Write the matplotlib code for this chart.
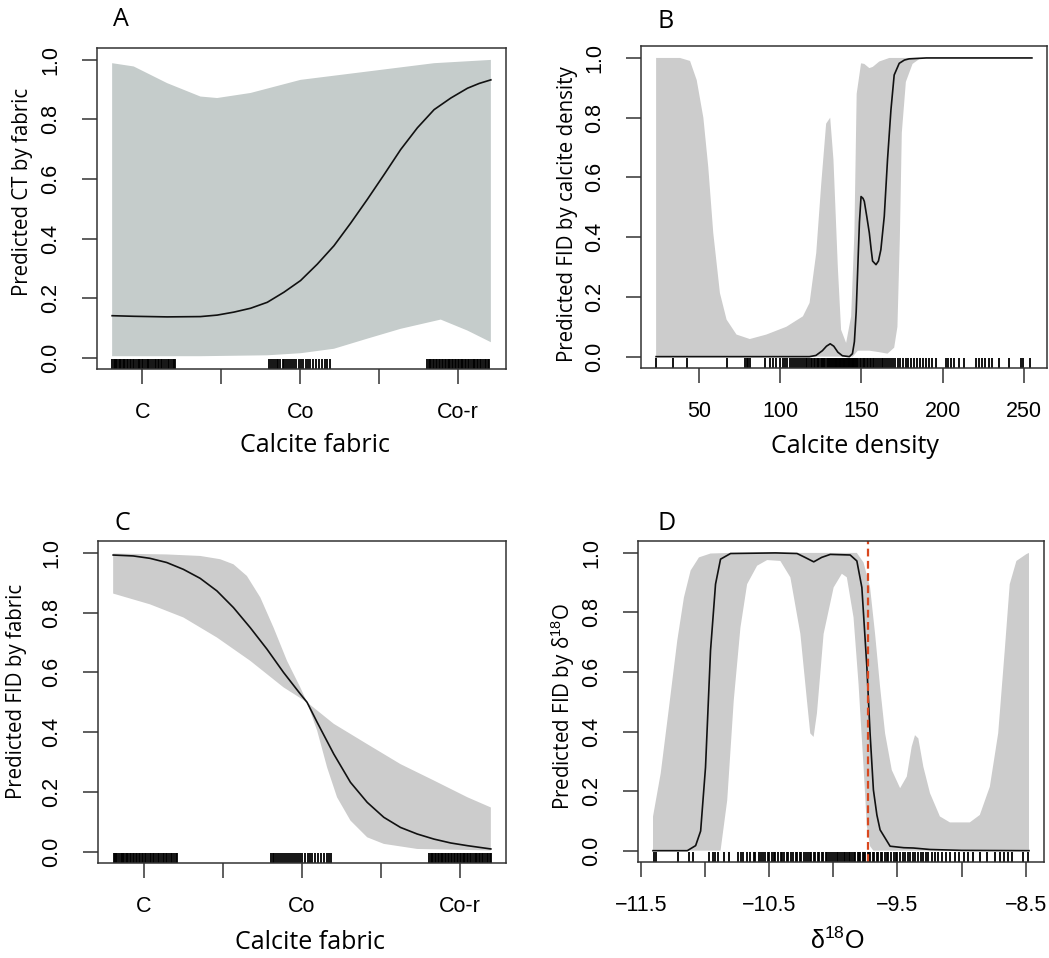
import matplotlib
matplotlib.use("Agg")
import matplotlib.pyplot as plt

plt.rcParams['mathtext.fontset'] = 'custom'
plt.rcParams['mathtext.rm'] = 'Liberation Sans'

# panel A: predicted CT by fabric
a_line_x = [0.808, 0.945, 1.157, 1.368, 1.474, 1.580, 1.686, 1.792, 1.898, 2.003, 2.109,
            2.215, 2.321, 2.427, 2.533, 2.638, 2.744, 2.850, 2.956, 3.062, 3.136, 3.210]
a_line_y = [0.141, 0.139, 0.137, 0.138, 0.143, 0.153, 0.166, 0.186, 0.220, 0.259, 0.314,
            0.376, 0.452, 0.532, 0.615, 0.699, 0.772, 0.833, 0.872, 0.905, 0.921, 0.933]
a_up_x = [0.808, 0.945, 1.157, 1.368, 1.474, 1.686, 2.003, 2.427, 2.850, 3.210]
a_up_y = [0.989, 0.978, 0.922, 0.877, 0.872, 0.889, 0.933, 0.961, 0.989, 1.000]
a_lo_x = [0.808, 1.368, 1.792, 2.003, 2.215, 2.427, 2.638, 2.892, 3.062, 3.210]
a_lo_y = [0.005, 0.005, 0.008, 0.015, 0.030, 0.064, 0.097, 0.128, 0.091, 0.052]

# panel B: predicted FID by calcite density
b_line_x = [23.6, 60, 100, 118.0, 122.0, 126.0, 128.5, 130.8, 133.0, 135.5, 138.3, 142.6,
            144.5, 145.7, 146.8, 147.8, 148.8, 149.8, 151.0, 151.8, 153.3, 154.9, 156.0,
            156.9, 159.0, 160.5, 162.0, 164.1, 166.1, 168.2, 170.2, 173.3, 176.5, 179.4,
            190, 255]
b_line_y = [0.0, 0.0, 0.0, 0.0, 0.004, 0.02, 0.035, 0.043, 0.035, 0.015, 0.003, 0.0,
            0.01, 0.05, 0.15, 0.30, 0.45, 0.536, 0.53, 0.52, 0.47, 0.414, 0.36,
            0.32, 0.308, 0.32, 0.358, 0.47, 0.66, 0.826, 0.943, 0.982, 0.993, 0.997,
            1.0, 1.0]
b_up_x = [23.6, 38.3, 44.5, 48.6, 52.7, 55.7, 58.8, 62.9, 67.0, 73.1, 81.3, 91.5, 103.8,
          114.0, 118.1, 122.2, 125.3, 128.3, 130.8, 132.8, 135.5, 137.5, 140.6, 143.7,
          145.7, 147.1, 149.8, 151.8, 154.9, 157.0, 161.0, 167.2, 255]
b_up_y = [1.0, 1.0, 0.99, 0.926, 0.80, 0.636, 0.414, 0.213, 0.124, 0.074, 0.059, 0.074,
          0.10, 0.135, 0.18, 0.347, 0.58, 0.78, 0.80, 0.66, 0.30, 0.09, 0.046, 0.135,
          0.414, 0.88, 0.982, 0.98, 0.966, 0.97, 0.988, 1.0, 1.0]
b_lo_x = [23.6, 144.7, 147.8, 154.9, 161.0, 166.1, 170.2, 172.2, 173.7, 174.9, 177.4,
          181.5, 186.6, 255]
b_lo_y = [0.0, 0.0, 0.02, 0.02, 0.015, 0.01, 0.03, 0.1, 0.4, 0.75, 0.92, 0.98, 1.0, 1.0]
b_rug = [23.6, 34.2, 42.8, 67.0, 78.2, 79.3, 80.4, 81.3, 90.5, 93.6, 95.4, 97.7, 99.7,
         101.6, 103.2, 104.5, 106.1, 107.3, 108.8, 110.0, 111.2, 112.1, 113.5, 114.6,
         115.7, 116.8, 117.9, 118.8, 119.8, 120.7, 121.6, 122.5, 123.3, 124.1, 124.9,
         125.6, 126.4, 127.1, 127.9, 128.6, 129.3, 130.0, 130.7, 131.4, 132.0, 132.6,
         133.1, 133.6, 134.1, 134.6, 135.1, 135.6, 136.1, 136.6, 137.1, 137.6, 138.1,
         138.6, 139.1, 139.6, 140.1, 140.6, 141.1, 141.6, 142.1, 142.6, 143.1, 143.6,
         144.1, 144.6, 145.1, 145.6, 146.1, 146.7, 147.4, 148.2, 149.0, 149.9, 150.7,
         151.6, 152.4, 153.3, 154.3, 155.2, 156.0, 157.1, 158.0, 159.2, 160.1, 161.3,
         162.4, 163.3, 164.5, 165.8, 166.9, 168.1, 169.5, 170.8, 172.3, 174.0, 175.4,
         177.2, 178.9, 180.5, 182.4, 184.0, 186.1, 188.0, 189.7, 191.5, 193.6, 195.8,
         202.0, 203.4, 205.1, 207.3, 210.0, 213.1, 220.4, 222.3, 224.5, 226.1, 228.4,
         230.2, 234.7, 240.8, 248.0, 249.5, 254.0]

# panel C: predicted FID by fabric
c_line_x = [0.805, 0.932, 1.038, 1.144, 1.25, 1.356, 1.462, 1.567, 1.673, 1.779, 1.884,
            1.99, 2.033, 2.097, 2.202, 2.308, 2.414, 2.519, 2.625, 2.731, 2.837, 2.943,
            3.049, 3.197]
c_line_y = [0.993, 0.990, 0.982, 0.968, 0.945, 0.915, 0.873, 0.817, 0.75, 0.678, 0.600,
            0.528, 0.5, 0.433, 0.327, 0.232, 0.165, 0.115, 0.081, 0.059, 0.042, 0.029,
            0.020, 0.009]
c_steep_x = [0.805, 1.144, 1.356, 1.483, 1.567, 1.652, 1.737, 1.821, 1.906, 1.99, 2.033,
             2.097, 2.16, 2.223, 2.308, 2.414, 2.519, 2.731, 3.197]
c_steep_y = [0.998, 0.995, 0.990, 0.979, 0.962, 0.923, 0.851, 0.750, 0.639, 0.55, 0.5,
             0.405, 0.282, 0.182, 0.104, 0.048, 0.026, 0.009, 0.004]
c_gentle_x = [0.805, 1.038, 1.25, 1.462, 1.673, 1.884, 2.033, 2.202, 2.414, 2.625, 2.837,
              3.049, 3.197]
c_gentle_y = [0.864, 0.828, 0.784, 0.717, 0.639, 0.550, 0.5, 0.428, 0.360, 0.293, 0.238,
              0.182, 0.148]

# rug of fabric values (A and C)
fabric_rug = [0.810, 0.818, 0.826, 0.831, 0.840, 0.852, 0.858, 0.866, 0.875, 0.884, 0.890,
              0.902, 0.911, 0.919, 0.928, 0.940, 0.948, 0.957, 0.969, 0.977, 0.986, 0.995,
              1.006, 1.015, 1.027, 1.036, 1.044, 1.056, 1.065, 1.077, 1.088, 1.097, 1.108,
              1.118, 1.126, 1.139, 1.148, 1.160, 1.171, 1.180, 1.192, 1.200, 1.208,
              1.802, 1.815, 1.826, 1.838, 1.851, 1.860, 1.874, 1.889, 1.897, 1.912, 1.925,
              1.938, 1.950, 1.963, 1.975, 1.990, 2.004, 2.020, 2.036, 2.049, 2.066, 2.083,
              2.100, 2.121, 2.140, 2.158, 2.170, 2.187,
              2.808, 2.816, 2.825, 2.833, 2.841, 2.852, 2.860, 2.871, 2.879, 2.888, 2.897,
              2.905, 2.916, 2.924, 2.935, 2.944, 2.953, 2.962, 2.970, 2.981, 2.990, 2.999,
              3.010, 3.018, 3.027, 3.036, 3.047, 3.055, 3.066, 3.074, 3.083, 3.094, 3.103,
              3.112, 3.121, 3.130, 3.141, 3.150, 3.161, 3.170, 3.180, 3.189, 3.197]
fabric_ticks = [1, 1.5, 2, 2.5, 3]
fabric_labels = ['C', '', 'Co', '', 'Co-r']

# panel D: predicted FID by d18O
d_line_x = [-11.404, -11.137, -11.072, -11.033, -10.995, -10.956, -10.917, -10.878, -10.80,
            -10.45, -10.282, -10.22, -10.152, -10.09, -10.023, -9.868, -9.816, -9.777,
            -9.738, -9.713, -9.687, -9.66, -9.635, -9.557, -9.45, -9.376, -9.246, -9.0,
            -8.475]
d_line_y = [0.0, 0.0, 0.017, 0.066, 0.28, 0.672, 0.895, 0.979, 0.998,
            1.0, 0.998, 0.985, 0.97, 0.985, 0.995, 0.993, 0.973, 0.884,
            0.617, 0.394, 0.204, 0.12, 0.07, 0.015, 0.01, 0.009, 0.004, 0.001,
            0.0]
d_up_x = [-11.404, -11.344, -11.279, -11.215, -11.163, -11.111, -11.046, -10.956, -10.80,
          -9.816, -9.764, -9.713, -9.674, -9.635, -9.596, -9.544, -9.479, -9.427, -9.389,
          -9.363, -9.337, -9.298, -9.246, -9.169, -9.091, -8.936, -8.858, -8.78, -8.715,
          -8.664, -8.625, -8.573, -8.495, -8.475]
d_up_y = [0.115, 0.26, 0.483, 0.706, 0.851, 0.941, 0.985, 0.998, 1.0,
          1.0, 0.968, 0.884, 0.728, 0.55, 0.394, 0.271, 0.21, 0.249, 0.349,
          0.388, 0.377, 0.282, 0.193, 0.115, 0.095, 0.095, 0.12, 0.215, 0.394,
          0.672, 0.895, 0.973, 0.996, 1.0]
d_lo_x = [-11.404, -10.878, -10.826, -10.775, -10.723, -10.671, -10.593, -10.515, -10.412,
          -10.334, -10.256, -10.205, -10.179, -10.153, -10.127, -10.075, -9.997, -9.933,
          -9.894, -9.842, -9.803, -9.764, -9.738, -9.713, -9.687, -8.475]
d_lo_y = [0.0, 0.0, 0.169, 0.505, 0.749, 0.895, 0.957, 0.976, 0.973,
          0.918, 0.728, 0.505, 0.394, 0.382, 0.461, 0.728, 0.884, 0.93,
          0.918, 0.784, 0.561, 0.282, 0.082, 0.015, 0.0, 0.0]
d_rug = [-11.40, -11.38, -11.21, -11.12, -11.09, -10.97, -10.94, -10.92, -10.90, -10.85,
         -10.81, -10.74, -10.72, -10.70, -10.67, -10.65, -10.62, -10.61, -10.58, -10.56,
         -10.55, -10.53, -10.51, -10.50, -10.48, -10.46, -10.45, -10.43, -10.41, -10.40,
         -10.38, -10.36, -10.35, -10.33, -10.31, -10.29, -10.28, -10.26, -10.25, -10.23,
         -10.21, -10.20, -10.18, -10.17, -10.15, -10.14, -10.12, -10.11, -10.09, -10.08,
         -10.06, -10.05, -10.03, -10.02, -10.00, -9.99, -9.97, -9.96, -9.95, -9.93, -9.92,
         -9.91, -9.89, -9.88, -9.87, -9.85, -9.84, -9.83, -9.81, -9.80, -9.79, -9.77,
         -9.76, -9.75, -9.73, -9.72, -9.71, -9.69, -9.68, -9.66, -9.65, -9.63, -9.62,
         -9.60, -9.58, -9.57, -9.55, -9.53, -9.51, -9.50, -9.48, -9.46, -9.44, -9.42,
         -9.40, -9.38, -9.36, -9.34, -9.32, -9.30, -9.28, -9.26, -9.23, -9.21, -9.18,
         -9.15, -9.12, -9.09, -9.05, -9.02, -8.98, -8.95, -8.91, -8.86, -8.80, -8.74,
         -8.70, -8.67, -8.64, -8.61, -8.52, -8.48]
d_threshold = -9.726
d_ticks = [-11.5, -11, -10.5, -10, -9.5, -9, -8.5]
d_labels = ['\u221211.5', '', '\u221210.5', '', '\u22129.5', '', '\u22128.5']

W, H = 1049, 958
fig = plt.figure(figsize=(W / 100, H / 100), dpi=100)

TICKFONT = 'Liberation Sans'
LABFONT = 'Open Sans'


def panel(rect, up_x, up_y, lo_x, lo_y, line_x, line_y, rug, xlim, band_color):
    l, t, r, b = rect
    ax = fig.add_axes([l / W, 1 - b / H, (r - l) / W, (b - t) / H])
    ax.fill(list(up_x) + list(lo_x)[::-1], list(up_y) + list(lo_y)[::-1],
            color=band_color, lw=0)
    ax.plot(line_x, line_y, color='#111111', lw=1.2)
    ax.vlines(rug, 0, 0.03, transform=ax.get_xaxis_transform(), color='black', lw=1.3)
    ax.set_xlim(*xlim)
    ax.set_ylim(-0.038, 1.04)
    ax.set_yticks([0, 0.2, 0.4, 0.6, 0.8, 1.0])
    ax.set_yticklabels(['0.0', '0.2', '0.4', '0.6', '0.8', '1.0'])
    ax.tick_params(length=10.5, width=1.1, color='#333333', labelsize=15.5, pad=13)
    ax.tick_params(axis='y', labelrotation=90, pad=15)
    for t_ in ax.get_yticklabels():
        t_.set_va('center')
    for t_ in ax.get_xticklabels() + ax.get_yticklabels():
        t_.set_fontfamily(TICKFONT)
    for s in ax.spines.values():
        s.set_linewidth(1.1)
        s.set_color('#333333')
    return ax


# A
ax = panel((97, 48, 506, 369), a_up_x, a_up_y, a_lo_x, a_lo_y, a_line_x, a_line_y,
           fabric_rug, (0.712, 3.306), '#c5cccb')
ax.set_xticks(fabric_ticks)
ax.set_xticklabels(fabric_labels, fontfamily=TICKFONT)
ax.set_xlabel('Calcite fabric', fontfamily=LABFONT, fontsize=18, va='center')
ax.xaxis.set_label_coords(0.532, -0.237)
ax.set_ylabel('Predicted CT by fabric', fontfamily=LABFONT, fontsize=14.8, va='center')
ax.yaxis.set_label_coords(-0.181, 0.551)

# B
ax = panel((641, 46, 1047, 368), b_up_x, b_up_y, b_lo_x, b_lo_y, b_line_x, b_line_y,
           b_rug, (14.3, 264.3), '#cccccc')
ax.set_xticks([50, 100, 150, 200, 250])
ax.set_xticklabels(['50', '100', '150', '200', '250'], fontfamily=TICKFONT)
ax.set_xlabel('Calcite density', fontfamily=LABFONT, fontsize=18, va='center')
ax.xaxis.set_label_coords(0.527, -0.245)
ax.set_ylabel('Predicted FID by calcite density', fontfamily=LABFONT, fontsize=14.8,
              va='center')
ax.yaxis.set_label_coords(-0.182, 0.478)

# C
ax = panel((98, 541, 506, 863), c_steep_x, c_steep_y, c_gentle_x, c_gentle_y,
           c_line_x, c_line_y, fabric_rug, (0.709, 3.293), '#cccccc')
ax.set_xticks(fabric_ticks)
ax.set_xticklabels(fabric_labels, fontfamily=TICKFONT)
ax.set_xlabel('Calcite fabric', fontfamily=LABFONT, fontsize=18, va='center')
ax.xaxis.set_label_coords(0.52, -0.248)
ax.set_ylabel('Predicted FID by fabric', fontfamily=LABFONT, fontsize=14.8, va='center')
ax.yaxis.set_label_coords(-0.199, 0.534)

# D
ax = panel((638, 541, 1044, 862), d_up_x, d_up_y, d_lo_x, d_lo_y, d_line_x, d_line_y,
           d_rug, (-11.521, -8.358), '#cccccc')
ax.axvline(d_threshold, color='#d9481f', lw=1.6, ls=(0, (3.5, 2)))
ax.set_xticks(d_ticks)
ax.set_xticklabels(d_labels, fontfamily=TICKFONT)
ax.set_xlabel('\u03b4$^{\\mathrm{18}}$O', fontfamily=TICKFONT, fontsize=18, va='center')
ax.xaxis.set_label_coords(0.49, -0.245)
ax.set_ylabel('Predicted FID by \u03b4$^{\\mathrm{18}}$O', fontfamily=LABFONT,
              fontsize=14.8, va='center')
ax.yaxis.set_label_coords(-0.185, 0.484)

for letter, x, y in [('A', 113, 20), ('B', 658, 21), ('C', 115, 523), ('D', 657, 523)]:
    fig.text(x / W, 1 - y / H, letter, fontfamily=LABFONT, fontsize=18, va='center')

fig.savefig('out.png', dpi=100)
